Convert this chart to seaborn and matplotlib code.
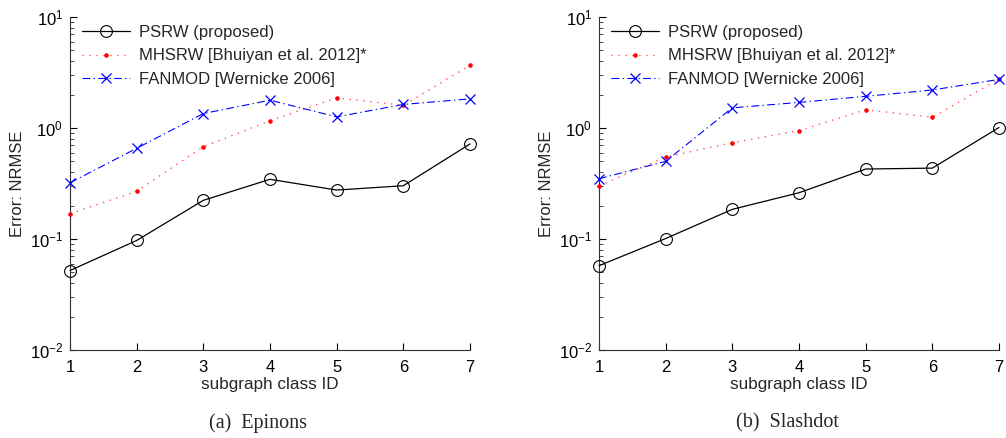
import numpy as np
import pandas as pd
import matplotlib
matplotlib.use("Agg")
import matplotlib.pyplot as plt
import seaborn as sns
from matplotlib.ticker import LogLocator, NullFormatter

# ---- data ----
class_ids = [1, 2, 3, 4, 5, 6, 7]
series_names = ["PSRW (proposed)", "MHSRW [Bhuiyan et al. 2012]*", "FANMOD [Wernicke 2006]"]

epinons_psrw = [0.052, 0.097, 0.223, 0.345, 0.276, 0.302, 0.718]
epinons_mhsrw = [0.169, 0.269, 0.679, 1.16, 1.87, 1.60, 3.67]
epinons_fanmod = [0.321, 0.656, 1.35, 1.78, 1.26, 1.63, 1.83]

slashdot_psrw = [0.0575, 0.101, 0.185, 0.261, 0.427, 0.435, 1.01]
slashdot_mhsrw = [0.302, 0.548, 0.737, 0.946, 1.46, 1.25, 2.76]
slashdot_fanmod = [0.349, 0.501, 1.52, 1.70, 1.93, 2.20, 2.74]

captions = ["(a)  Epinons", "(b)  Slashdot"]
x_label = "subgraph class ID"
y_label = "Error: NRMSE"

sns.set_style("ticks")
plt.rcParams["font.family"] = ["Liberation Sans", "DejaVu Sans"]
plt.rcParams["mathtext.fontset"] = "custom"
plt.rcParams["mathtext.rm"] = "Liberation Sans"
plt.rcParams["mathtext.it"] = "Liberation Sans:italic"

fig = plt.figure(figsize=(10.06, 4.38), dpi=100)
axL = fig.add_axes([70 / 1006, 88 / 438, 400 / 1006, 333 / 438])
axR = fig.add_axes([599 / 1006, 88 / 438, 400 / 1006, 333 / 438])

styles = [
    dict(color="black", linestyle="-", marker="o", markersize=8.5, markerfacecolor="none",
         markeredgecolor="black", markeredgewidth=0.8, linewidth=0.9),
    dict(color="#ff5555", linestyle=(0, (1, 4)), marker=".", markersize=5,
         markerfacecolor="#ff0000", markeredgecolor="#ff0000", linewidth=1.0),
    dict(color="#0000ff", linestyle=(0, (7, 3, 1.2, 3)), marker="x", markersize=6.5,
         markeredgewidth=0.9, markeredgecolor="#0000ff", linewidth=0.8),
]

panels = [
    (axL, [epinons_psrw, epinons_mhsrw, epinons_fanmod], captions[0]),
    (axR, [slashdot_psrw, slashdot_mhsrw, slashdot_fanmod], captions[1]),
]

for ax, vals, cap in panels:
    for name, v, st in zip(series_names, vals, styles):
        df = pd.DataFrame({"id": class_ids, "val": v})
        sns.lineplot(data=df, x="id", y="val", ax=ax, label=name, clip_on=False,
                     zorder=3, **st)
    ax.set_yscale("log")
    ax.set_xlim(1, 7)
    ax.set_ylim(1e-2, 1e1)
    ax.set_xticks(class_ids)
    ax.yaxis.set_major_locator(LogLocator(base=10, numticks=10))
    ax.yaxis.set_minor_locator(LogLocator(base=10, subs=np.arange(2, 10), numticks=20))
    ax.yaxis.set_minor_formatter(NullFormatter())
    ax.tick_params(axis="both", which="major", direction="in", length=5, width=0.8,
                   labelsize=12, colors="black", pad=5)
    ax.tick_params(axis="x", which="major", pad=7)
    ax.tick_params(axis="y", which="minor", direction="in", length=3, width=0.6)
    for s in ["top", "right"]:
        ax.spines[s].set_visible(False)
    for s in ["left", "bottom"]:
        ax.spines[s].set_linewidth(0.8)
        ax.spines[s].set_color("#333333")
    ax.set_xlabel(x_label, fontsize=12.3, labelpad=2)
    ax.set_ylabel(y_label, fontsize=12, labelpad=3)
    leg = ax.legend(loc="upper left", bbox_to_anchor=(0.0, 1.012), frameon=False,
                    fontsize=12, handlelength=2.9, handletextpad=0.55, labelspacing=0.52,
                    borderaxespad=0.3)
    ax.text(0.47, -0.19, cap, transform=ax.transAxes, ha="center", va="top",
            fontsize=14.5, family=["Liberation Serif", "DejaVu Serif"])

fig.savefig("out.png", dpi=100)
